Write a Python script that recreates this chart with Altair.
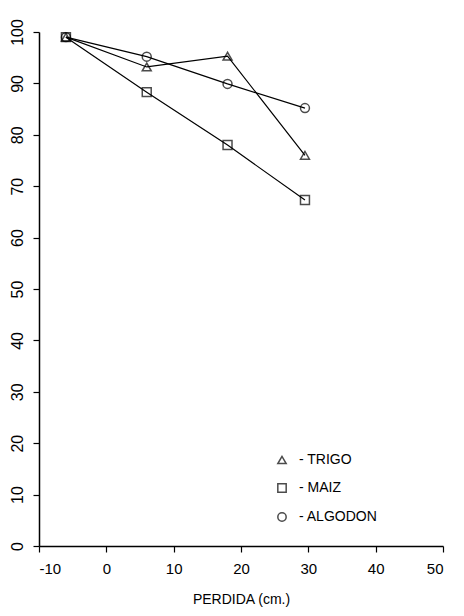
import altair as alt
import pandas as pd

x_vals = [-6, 6, 18, 29.5]
trigo = [99, 93.2, 95.3, 76]
maiz = [99, 88.3, 78, 67.3]
algodon = [99, 95.2, 89.9, 85.2]
series_names = ["TRIGO", "MAIZ", "ALGODON"]
legend_labels = {"TRIGO": "- TRIGO", "MAIZ": "- MAIZ", "ALGODON": "- ALGODON"}

rows = []
for name, vals in zip(series_names, [trigo, maiz, algodon]):
    for x, y in zip(x_vals, vals):
        rows.append({"perdida": x, "valor": y, "serie": legend_labels[name]})
df = pd.DataFrame(rows)

FONT = "Liberation Sans"
order = [legend_labels[n] for n in series_names]

base = alt.Chart(df)
lines = base.mark_line(color="black", strokeWidth=1.2).encode(
    x=alt.X("perdida:Q", scale=alt.Scale(domain=[-10, 50], nice=False, zero=False),
            axis=alt.Axis(values=[-10, 0, 10, 20, 30, 40, 50], title="PERDIDA (cm.)",
                          labelExpr="replace(datum.label, '\u2212', '-')",
                          labelFontSize=15, labelPadding=9, titlePadding=16)),
    y=alt.Y("valor:Q", scale=alt.Scale(domain=[0, 100], nice=False),
            axis=alt.Axis(values=list(range(0, 101, 10)), title=None, labelAngle=-90,
                          labelAlign="center", labelBaseline="bottom",
                          labelFontSize=16, labelPadding=8)),
    detail="serie:N",
)
points = base.mark_point(color="black", filled=False, strokeWidth=1.5, size=80).encode(
    x="perdida:Q",
    y="valor:Q",
    shape=alt.Shape("serie:N", sort=order,
                    scale=alt.Scale(domain=order, range=["triangle-up", "square", "circle"]),
                    legend=alt.Legend(title=None, orient="none", legendX=236, legendY=421,
                                      labelFont=FONT, labelFontSize=14, labelColor="black",
                                      symbolStrokeColor="black", symbolFillColor="transparent",
                                      symbolSize=70, rowPadding=13, labelOffset=10)),
)

chart = (lines + points).properties(
    width=404, height=514,
    autosize=alt.AutoSizeParams(type="none"),
    padding={"left": 39, "top": 32, "right": 21, "bottom": 70},
    background="white",
).configure_view(stroke=None).configure_axis(
    grid=False, domainColor="black", tickColor="black", labelColor="black",
    titleColor="black", labelFont=FONT, titleFont=FONT,
    titleFontSize=14, titleFontWeight="normal", tickSize=6,
    domainWidth=1.5, tickWidth=1.2,
)

chart.save("out.html", embed_options={"renderer": "svg", "actions": False})
